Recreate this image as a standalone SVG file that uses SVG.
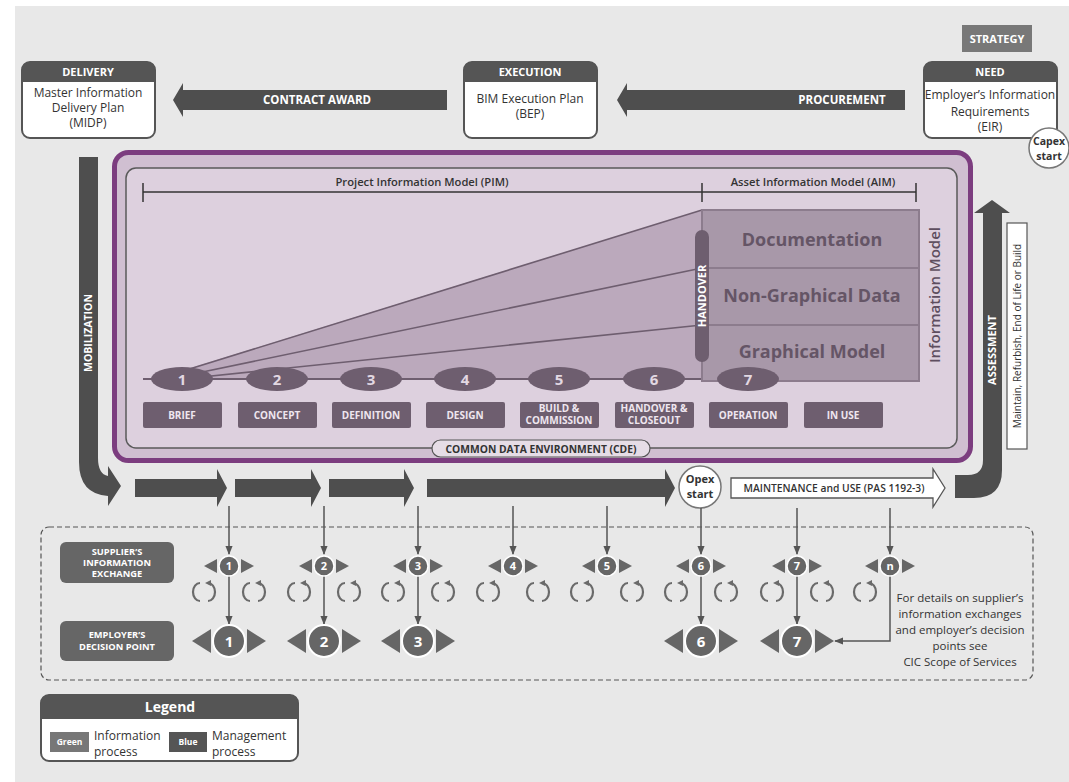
<svg xmlns="http://www.w3.org/2000/svg" width="1069" height="782" viewBox="0 0 1069 782">
  <defs>
    <style>
      text { font-family: 'Open Sans', 'Noto Sans', sans-serif; }
      .hd { font-weight: 700; fill: #fff; font-size: 11px; text-anchor: middle; }
      .body { font-size: 12px; fill: #333; text-anchor: middle; }
      .dark { fill: #4e4e4e; }
      .box { fill: #fff; stroke: #555; stroke-width: 2; }
      .head { fill: #555; }
      .wl { font-weight: 700; fill: #fff; text-anchor: middle; }
      .pp { fill: #6e5e6f; }
      .pt { font-weight: 700; fill: #efe6ef; font-size: 10px; text-anchor: middle; }
      .num { font-weight: 700; fill: #e2d8e2; font-size: 15px; text-anchor: middle; }
      .im { font-weight: 700; fill: #655566; font-size: 18px; text-anchor: middle; }
      .wline { stroke: #6e5e6f; stroke-width: 1.6; fill: none; }
      .conn { stroke: #555; stroke-width: 1.5; fill: none; marker-end: url(#ah); }
      .loop { stroke: #6a6a6a; stroke-width: 2.2; fill: none; marker-end: url(#lh); }
      .gn { fill: #666; }
      .sn { fill: #666; stroke: #fff; stroke-width: 1.5; }
      .en { fill: #666; stroke: #fff; stroke-width: 2; }
      .note { font-size: 11.5px; fill: #333; text-anchor: middle; }
    </style>
    <marker id="ah" viewBox="0 0 10 10" refX="9" refY="5" markerWidth="9" markerHeight="9" markerUnits="userSpaceOnUse" orient="auto">
      <path d="M0,1 L10,5 L0,9 Z" fill="#555"/>
    </marker>
    <marker id="lh" viewBox="0 0 10 10" refX="5" refY="5" markerWidth="6" markerHeight="6" markerUnits="userSpaceOnUse" orient="auto">
      <path d="M0,0 L10,5 L0,10 Z" fill="#6a6a6a"/>
    </marker>
  </defs>

  <!-- page -->
  <rect x="0" y="0" width="1069" height="782" fill="#ffffff"/>
  <rect x="15" y="6" width="1054" height="776" fill="#e8e8e8"/>

  <!-- top process arrows -->
  <g id="contract-award">
    <path class="dark" d="M173,100 L183,83 V90 H447 V110 H183 V117 Z"/>
    <text class="wl" x="317" y="104" font-size="11.5">CONTRACT AWARD</text>
  </g>
  <g id="procurement">
    <path class="dark" d="M617,100 L627,83 V90 H905 V110 H627 V117 Z"/>
    <text class="wl" x="842" y="104" font-size="11.5">PROCUREMENT</text>
  </g>

  <!-- top nodes -->
  <g id="delivery">
    <rect class="box" x="22" y="62" width="133" height="76" rx="8"/>
    <path class="head" d="M22,82 V70 Q22,62 30,62 H147 Q155,62 155,70 V82 Z"/>
    <text class="hd" x="88" y="76">DELIVERY</text>
    <text class="body" x="88" y="97">Master Information</text>
    <text class="body" x="88" y="112">Delivery Plan</text>
    <text class="body" x="88" y="127">(MIDP)</text>
  </g>
  <g id="execution">
    <rect class="box" x="464" y="62" width="133" height="76" rx="8"/>
    <path class="head" d="M464,82 V70 Q464,62 472,62 H589 Q597,62 597,70 V82 Z"/>
    <text class="hd" x="530" y="76">EXECUTION</text>
    <text class="body" x="530" y="103">BIM Execution Plan</text>
    <text class="body" x="530" y="118">(BEP)</text>
  </g>
  <g id="strategy">
    <rect x="962" y="25" width="70" height="27" fill="#787878"/>
    <text class="hd" x="997" y="43">STRATEGY</text>
  </g>
  <g id="need">
    <rect class="box" x="924" y="62" width="133" height="76" rx="8"/>
    <path class="head" d="M924,82 V70 Q924,62 932,62 H1049 Q1057,62 1057,70 V82 Z"/>
    <text class="hd" x="990" y="76">NEED</text>
    <text class="body" x="990" y="99">Employer’s Information</text>
    <text class="body" x="990" y="116">Requirements</text>
    <text class="body" x="990" y="131">(EIR)</text>
  </g>
  <g id="capex-start">
    <circle cx="1049" cy="148" r="20" fill="#fff" stroke="#777" stroke-width="1.5"/>
    <text x="1049" y="145" font-size="10.5" font-weight="700" fill="#333" text-anchor="middle">Capex</text>
    <text x="1049" y="160" font-size="10.5" font-weight="700" fill="#333" text-anchor="middle">start</text>
  </g>

  <!-- side arrows -->
  <g id="mobilization">
    <path class="dark" d="M79,157 H98 V458 Q98,474 108,476 V466 L121,486 L108,506 V496 Q79,494 79,462 Z"/>
    <text class="wl" font-size="10.5" transform="translate(92,333) rotate(-90)">MOBILIZATION</text>
  </g>
  <g id="assessment">
    <path class="dark" d="M955,475 H968 Q983,475 983,460 V213 H974 L992,200 L1010,213 H1002 V470 Q1002,498 974,498 H955 Z"/>
    <text class="wl" font-size="11" transform="translate(996,350) rotate(-90)">ASSESSMENT</text>
    <rect x="1007" y="223" width="20" height="226" fill="#fff" stroke="#555" stroke-width="1.2"/>
    <text font-size="10" fill="#333" text-anchor="middle" transform="translate(1021,336) rotate(-90)">Maintain, Refurbish, End of Life or Build</text>
  </g>

  <!-- common data environment -->
  <g id="cde">
    <rect x="114.5" y="152.5" width="856" height="308" rx="14" fill="#d0bfd1" stroke="#7c3d7f" stroke-width="5"/>
    <rect x="126" y="168" width="831" height="280" rx="10" fill="#ddd0de" stroke="#5a5a5a" stroke-width="1.5"/>
    <rect x="432" y="440" width="218" height="17" rx="8.5" fill="#e6dde6" stroke="#555" stroke-width="1.2"/>
    <text x="541" y="452.5" font-size="10.3" font-weight="700" fill="#333" text-anchor="middle">COMMON DATA ENVIRONMENT (CDE)</text>
  </g>

  <g id="pim-aim-scale">
    <line x1="143" y1="192" x2="916" y2="192" stroke="#333" stroke-width="1.5"/>
    <line x1="143" y1="183" x2="143" y2="202" stroke="#333" stroke-width="1.5"/>
    <line x1="702" y1="183" x2="702" y2="202" stroke="#333" stroke-width="1.5"/>
    <line x1="916" y1="183" x2="916" y2="202" stroke="#333" stroke-width="1.5"/>
    <text x="422" y="186" font-size="11.2" font-weight="600" fill="#333" text-anchor="middle">Project Information Model (PIM)</text>
    <text x="813" y="186" font-size="11.2" font-weight="600" fill="#333" text-anchor="middle">Asset Information Model (AIM)</text>
  </g>

  <g id="information-growth">
    <polygon points="181,371 702,210 702,379 181,379" fill="#bba9bc"/>
    <line class="wline" x1="183" y1="371" x2="702" y2="210"/>
    <line class="wline" x1="188" y1="375" x2="702" y2="268"/>
    <line class="wline" x1="192" y1="378" x2="702" y2="325"/>
    <line x1="143" y1="379" x2="702" y2="379" stroke="#6e5e6f" stroke-width="2"/>
  </g>

  <g id="information-model">
    <rect x="702" y="210" width="217" height="171" fill="#a898a9" stroke="#8c7c8d" stroke-width="2"/>
    <line x1="702" y1="268" x2="919" y2="268" stroke="#8c7c8d" stroke-width="2"/>
    <line x1="702" y1="325" x2="919" y2="325" stroke="#8c7c8d" stroke-width="2"/>
    <text class="im" x="812" y="246">Documentation</text>
    <text class="im" x="812" y="302">Non-Graphical Data</text>
    <text class="im" x="812" y="358">Graphical Model</text>
    <text font-size="15" font-weight="600" fill="#5e4e5f" text-anchor="middle" transform="translate(940,295) rotate(-90)">Information Model</text>
  </g>

  <g id="handover">
    <rect class="pp" x="695" y="230" width="14" height="132" rx="7"/>
    <text class="wl" font-size="11" fill="#efe6ef" transform="translate(706,296) rotate(-90)">HANDOVER</text>
  </g>

  <!-- project stages -->
  <g id="stage-1">
    <ellipse class="pp" cx="182" cy="379" rx="31" ry="12"/>
    <text class="num" x="182" y="385">1</text>
    <rect class="pp" x="143" y="402" width="79" height="26" rx="2"/>
    <text class="pt" x="182" y="419">BRIEF</text>
  </g>
  <g id="stage-2">
    <ellipse class="pp" cx="277" cy="379" rx="31" ry="12"/>
    <text class="num" x="277" y="385">2</text>
    <rect class="pp" x="238" y="402" width="79" height="26" rx="2"/>
    <text class="pt" x="277" y="419">CONCEPT</text>
  </g>
  <g id="stage-3">
    <ellipse class="pp" cx="371" cy="379" rx="31" ry="12"/>
    <text class="num" x="371" y="385">3</text>
    <rect class="pp" x="332" y="402" width="79" height="26" rx="2"/>
    <text class="pt" x="371" y="419">DEFINITION</text>
  </g>
  <g id="stage-4">
    <ellipse class="pp" cx="465" cy="379" rx="31" ry="12"/>
    <text class="num" x="465" y="385">4</text>
    <rect class="pp" x="426" y="402" width="79" height="26" rx="2"/>
    <text class="pt" x="465" y="419">DESIGN</text>
  </g>
  <g id="stage-5">
    <ellipse class="pp" cx="559" cy="379" rx="31" ry="12"/>
    <text class="num" x="559" y="385">5</text>
    <rect class="pp" x="520" y="402" width="79" height="26" rx="2"/>
    <text class="pt" x="559" y="412">BUILD &amp;</text>
    <text class="pt" x="559" y="424">COMMISSION</text>
  </g>
  <g id="stage-6">
    <ellipse class="pp" cx="654" cy="379" rx="31" ry="12"/>
    <text class="num" x="654" y="385">6</text>
    <rect class="pp" x="615" y="402" width="79" height="26" rx="2"/>
    <text class="pt" x="654" y="412">HANDOVER &amp;</text>
    <text class="pt" x="654" y="424">CLOSEOUT</text>
  </g>
  <g id="stage-7">
    <ellipse class="pp" cx="748" cy="379" rx="31" ry="12"/>
    <text class="num" x="748" y="385">7</text>
    <rect class="pp" x="709" y="402" width="79" height="26" rx="2"/>
    <text class="pt" x="748" y="419">OPERATION</text>
  </g>
  <g id="stage-in-use">
    <rect class="pp" x="804" y="402" width="79" height="26" rx="2"/>
    <text class="pt" x="843" y="419">IN USE</text>
  </g>

  <!-- delivery flow -->
  <g id="flow">
    <path class="dark" d="M135,479 H217 V469 L227,488 L217,507 V497 H135 Z"/>
    <path class="dark" d="M235,479 H311 V469 L321,488 L311,507 V497 H235 Z"/>
    <path class="dark" d="M329,479 H404 V469 L414,488 L404,507 V497 H329 Z"/>
    <path class="dark" d="M427,479 H665 V469 L675,488 L665,507 V497 H427 Z"/>
  </g>
  <g id="opex-start">
    <circle cx="700" cy="487" r="21" fill="#fff" stroke="#777" stroke-width="1.5"/>
    <text x="700" y="483" font-size="11" font-weight="700" fill="#333" text-anchor="middle">Opex</text>
    <text x="700" y="498" font-size="11" font-weight="700" fill="#333" text-anchor="middle">start</text>
  </g>
  <g id="maintenance">
    <path d="M731,478 H933 V469 L945,488 L933,507 V498 H731 Z" fill="#fff" stroke="#555" stroke-width="1.3"/>
    <text x="834" y="492" font-size="10.3" font-weight="600" fill="#333" text-anchor="middle">MAINTENANCE and USE (PAS 1192-3)</text>
  </g>

  <!-- exchanges and decision points -->
  <rect id="exchange-frame" x="41" y="527" width="992" height="153" rx="8" fill="none" stroke="#555" stroke-width="1.2" stroke-dasharray="5 3"/>

  <g id="supplier-label">
    <rect x="60" y="542" width="114" height="41" rx="6" fill="#666"/>
    <text class="wl" font-size="9.3" x="117" y="555">SUPPLIER’S</text>
    <text class="wl" font-size="9.3" x="117" y="566">INFORMATION</text>
    <text class="wl" font-size="9.3" x="117" y="577">EXCHANGE</text>
  </g>
  <g id="employer-label">
    <rect x="60" y="621" width="114" height="40" rx="6" fill="#666"/>
    <text class="wl" font-size="9.3" x="117" y="638">EMPLOYER’S</text>
    <text class="wl" font-size="9.3" x="117" y="650">DECISION POINT</text>
  </g>

  <g id="connectors">
    <line class="conn" x1="229" y1="506" x2="229" y2="554"/>
    <line class="conn" x1="324" y1="506" x2="324" y2="554"/>
    <line class="conn" x1="418" y1="506" x2="418" y2="554"/>
    <line class="conn" x1="513" y1="506" x2="513" y2="554"/>
    <line class="conn" x1="607" y1="506" x2="607" y2="554"/>
    <line class="conn" x1="701" y1="508" x2="701" y2="554"/>
    <line class="conn" x1="797" y1="508" x2="797" y2="554"/>
    <line class="conn" x1="890" y1="508" x2="890" y2="554"/>
    <line class="conn" x1="229" y1="576" x2="229" y2="624"/>
    <line class="conn" x1="324" y1="576" x2="324" y2="624"/>
    <line class="conn" x1="418" y1="576" x2="418" y2="624"/>
    <line class="conn" x1="701" y1="576" x2="701" y2="624"/>
    <line class="conn" x1="797" y1="576" x2="797" y2="624"/>
    <path class="conn" d="M890,576 V641 H835"/>
  </g>

  <g id="exchange-1">
    <polygon class="gn" points="204,566 217,559 217,573"/><polygon class="gn" points="254,566 241,559 241,573"/>
    <circle class="sn" cx="229" cy="566" r="10"/><text class="wl" font-size="11" x="229" y="570">1</text>
  </g>
  <g id="exchange-2">
    <polygon class="gn" points="299,566 312,559 312,573"/><polygon class="gn" points="349,566 336,559 336,573"/>
    <circle class="sn" cx="324" cy="566" r="10"/><text class="wl" font-size="11" x="324" y="570">2</text>
  </g>
  <g id="exchange-3">
    <polygon class="gn" points="393,566 406,559 406,573"/><polygon class="gn" points="443,566 430,559 430,573"/>
    <circle class="sn" cx="418" cy="566" r="10"/><text class="wl" font-size="11" x="418" y="570">3</text>
  </g>
  <g id="exchange-4">
    <polygon class="gn" points="488,566 501,559 501,573"/><polygon class="gn" points="538,566 525,559 525,573"/>
    <circle class="sn" cx="513" cy="566" r="10"/><text class="wl" font-size="11" x="513" y="570">4</text>
  </g>
  <g id="exchange-5">
    <polygon class="gn" points="582,566 595,559 595,573"/><polygon class="gn" points="632,566 619,559 619,573"/>
    <circle class="sn" cx="607" cy="566" r="10"/><text class="wl" font-size="11" x="607" y="570">5</text>
  </g>
  <g id="exchange-6">
    <polygon class="gn" points="676,566 689,559 689,573"/><polygon class="gn" points="726,566 713,559 713,573"/>
    <circle class="sn" cx="701" cy="566" r="10"/><text class="wl" font-size="11" x="701" y="570">6</text>
  </g>
  <g id="exchange-7">
    <polygon class="gn" points="772,566 785,559 785,573"/><polygon class="gn" points="822,566 809,559 809,573"/>
    <circle class="sn" cx="797" cy="566" r="10"/><text class="wl" font-size="11" x="797" y="570">7</text>
  </g>
  <g id="exchange-n">
    <polygon class="gn" points="865,566 878,559 878,573"/><polygon class="gn" points="915,566 902,559 902,573"/>
    <circle class="sn" cx="890" cy="566" r="10"/><text class="wl" font-size="11" x="890" y="570">n</text>
  </g>

  <g id="decision-1">
    <polygon class="gn" points="192,641 211,629 211,653"/><polygon class="gn" points="266,641 247,629 247,653"/>
    <circle class="en" cx="229" cy="641" r="16"/><text class="wl" font-size="15" x="229" y="646.5">1</text>
  </g>
  <g id="decision-2">
    <polygon class="gn" points="287,641 306,629 306,653"/><polygon class="gn" points="361,641 342,629 342,653"/>
    <circle class="en" cx="324" cy="641" r="16"/><text class="wl" font-size="15" x="324" y="646.5">2</text>
  </g>
  <g id="decision-3">
    <polygon class="gn" points="381,641 400,629 400,653"/><polygon class="gn" points="455,641 436,629 436,653"/>
    <circle class="en" cx="418" cy="641" r="16"/><text class="wl" font-size="15" x="418" y="646.5">3</text>
  </g>
  <g id="decision-6">
    <polygon class="gn" points="664,641 683,629 683,653"/><polygon class="gn" points="738,641 719,629 719,653"/>
    <circle class="en" cx="701" cy="641" r="16"/><text class="wl" font-size="15" x="701" y="646.5">6</text>
  </g>
  <g id="decision-7">
    <polygon class="gn" points="760,641 779,629 779,653"/><polygon class="gn" points="834,641 815,629 815,653"/>
    <circle class="en" cx="797" cy="641" r="16"/><text class="wl" font-size="15" x="797" y="646.5">7</text>
  </g>

  <!-- iteration loops -->
  <g id="loops">
    <path class="loop" d="M200,583 A7 9 0 0 0 200,601 M208,601 A7 9 0 0 0 208,583"/>
    <path class="loop" d="M250,583 A7 9 0 0 0 250,601 M258,601 A7 9 0 0 0 258,583"/>
    <path class="loop" d="M295,583 A7 9 0 0 0 295,601 M303,601 A7 9 0 0 0 303,583"/>
    <path class="loop" d="M345,583 A7 9 0 0 0 345,601 M353,601 A7 9 0 0 0 353,583"/>
    <path class="loop" d="M389,583 A7 9 0 0 0 389,601 M397,601 A7 9 0 0 0 397,583"/>
    <path class="loop" d="M439,583 A7 9 0 0 0 439,601 M447,601 A7 9 0 0 0 447,583"/>
    <path class="loop" d="M484,583 A7 9 0 0 0 484,601 M492,601 A7 9 0 0 0 492,583"/>
    <path class="loop" d="M534,583 A7 9 0 0 0 534,601 M542,601 A7 9 0 0 0 542,583"/>
    <path class="loop" d="M578,583 A7 9 0 0 0 578,601 M586,601 A7 9 0 0 0 586,583"/>
    <path class="loop" d="M628,583 A7 9 0 0 0 628,601 M636,601 A7 9 0 0 0 636,583"/>
    <path class="loop" d="M672,583 A7 9 0 0 0 672,601 M680,601 A7 9 0 0 0 680,583"/>
    <path class="loop" d="M722,583 A7 9 0 0 0 722,601 M730,601 A7 9 0 0 0 730,583"/>
    <path class="loop" d="M768,583 A7 9 0 0 0 768,601 M776,601 A7 9 0 0 0 776,583"/>
    <path class="loop" d="M818,583 A7 9 0 0 0 818,601 M826,601 A7 9 0 0 0 826,583"/>
    <path class="loop" d="M861,583 A7 9 0 0 0 861,601 M869,601 A7 9 0 0 0 869,583"/>
  </g>

  <g id="note">
    <text class="note" x="960" y="602">For details on supplier’s</text>
    <text class="note" x="960" y="618">information exchanges</text>
    <text class="note" x="960" y="634">and employer’s decision</text>
    <text class="note" x="960" y="650">points see</text>
    <text class="note" x="960" y="666">CIC Scope of Services</text>
  </g>

  <!-- legend -->
  <g id="legend">
    <rect class="box" x="41" y="695" width="257" height="66" rx="8" stroke-width="1.5"/>
    <path class="head" d="M41,719 V703 Q41,695 49,695 H290 Q298,695 298,703 V719 Z"/>
    <text class="wl" font-size="14" x="170" y="712">Legend</text>
    <rect x="50" y="732" width="39" height="20" fill="#777"/>
    <text class="wl" font-size="8.5" x="69.5" y="745">Green</text>
    <text x="94" y="740" font-size="12" fill="#333">Information</text>
    <text x="94" y="756" font-size="12" fill="#333">process</text>
    <rect x="169" y="732" width="38" height="20" fill="#555"/>
    <text class="wl" font-size="8.5" x="188" y="745">Blue</text>
    <text x="212" y="740" font-size="12" fill="#333">Management</text>
    <text x="212" y="756" font-size="12" fill="#333">process</text>
  </g>
</svg>
